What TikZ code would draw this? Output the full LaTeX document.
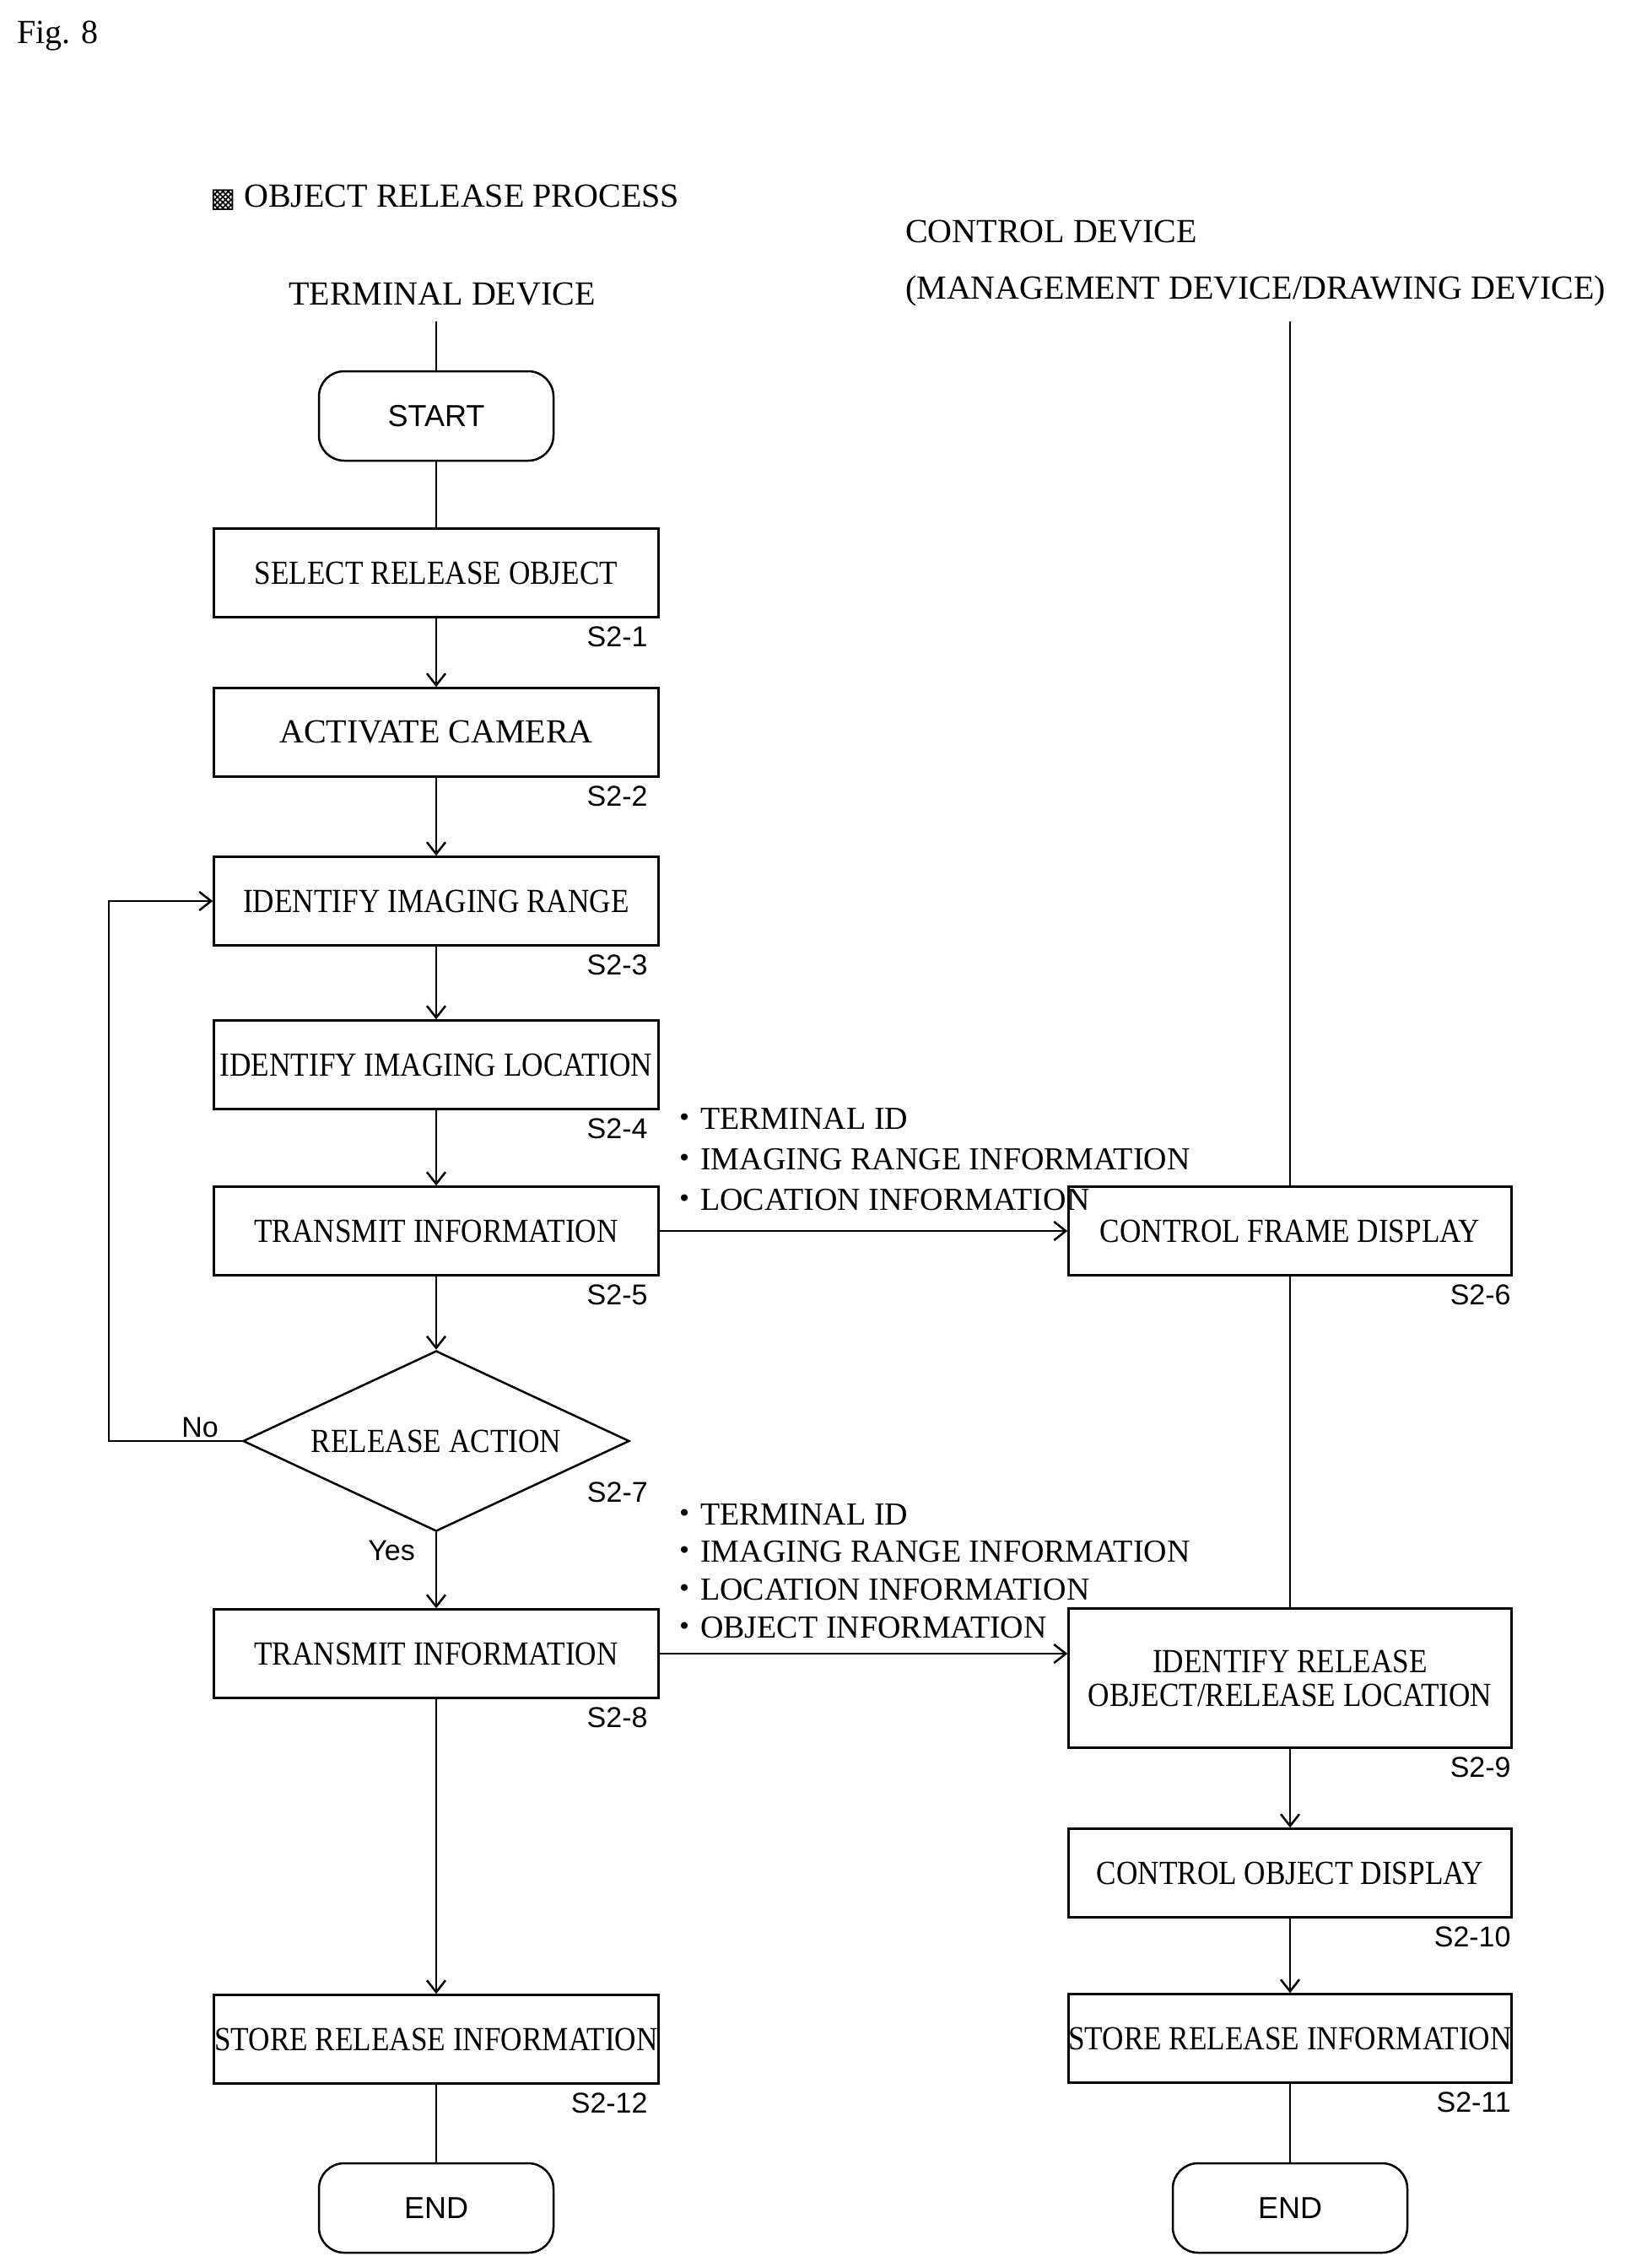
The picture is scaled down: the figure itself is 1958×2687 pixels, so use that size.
\documentclass[tikz,border=0pt]{standalone}
\usepackage{fontspec}
\setmainfont{Liberation Serif}
\setsansfont{Liberation Sans}
\newfontfamily\djvfont{DejaVu Sans}
\newfontfamily\cjkfont{Noto Sans CJK JP}
\usetikzlibrary{shapes.geometric,arrows.meta}
\newcommand{\cnd}[1]{\scalebox{0.88}[1]{#1}}
\newcommand{\dotb}{{\cjkfont ・}}
\begin{document}
\begin{tikzpicture}[x=1pt,y=1pt,
  every node/.style={font=\fontsize{40}{46}\selectfont},
  box/.style={draw,line width=2.5pt,minimum width=527pt,minimum height=105pt,inner sep=0pt},
  term/.style={draw,line width=2.5pt,rounded corners=30pt,minimum width=278pt,minimum height=106pt,font=\sffamily\fontsize{36}{40}\selectfont},
  lab/.style={anchor=north east,font=\sffamily\fontsize{34}{38}\selectfont,inner sep=0pt},
  info/.style={anchor=west,inner sep=0pt,font=\fontsize{38}{42}\selectfont},
  ln/.style={line width=2.5pt},
  ar/.style={line width=2.5pt,-{Straight Barb[length=14pt,width=22pt,line width=2.5pt]}}]
\useasboundingbox (0,0) rectangle (1958,-2687);
\node[anchor=west,inner sep=0pt] at (20,-43) {Fig. 8};
\node[anchor=west,inner sep=0pt] (title) at (249,-234) {{\djvfont\fontsize{32}{36}\selectfont ▩} OBJECT RELEASE PROCESS};
\node[inner sep=0pt] (td) at (524,-349) {TERMINAL DEVICE};
\node[anchor=west,inner sep=0pt] (cd1) at (1073,-275) {CONTROL DEVICE};
\node[anchor=west,inner sep=0pt] (cd2) at (1073,-345) {(MANAGEMENT DEVICE/DRAWING DEVICE)};
\coordinate (ttop) at (517,-381);
\coordinate (rtop) at (1529,-381);
% left column
\node[term] (start) at (517,-493) {START};
\node[box] (s1) at (517,-679) {\cnd{SELECT RELEASE OBJECT}};
\node[box] (s2) at (517,-868) {ACTIVATE CAMERA};
\node[box] (s3) at (517,-1068) {\cnd{IDENTIFY IMAGING RANGE}};
\node[box] (s4) at (517,-1262) {\cnd{IDENTIFY IMAGING LOCATION}};
\node[box] (s5) at (517,-1459) {\cnd{TRANSMIT INFORMATION}};
\node[draw,diamond,line width=2.5pt,minimum width=458pt,minimum height=214pt,aspect=2.14,inner sep=0pt] (s7) at (517,-1708) {\cnd{RELEASE ACTION}};
\node[box] (s8) at (517,-1960) {\cnd{TRANSMIT INFORMATION}};
\node[box] (s12) at (517,-2417) {\cnd{STORE RELEASE INFORMATION}};
\node[term] (end1) at (517,-2617) {END};
% right column
\node[box,minimum width=525pt] (s6) at (1529,-1459) {\cnd{CONTROL FRAME DISPLAY}};
\node[box,minimum width=525pt,minimum height=165pt,align=center] (s9) at (1529,-1989) {\cnd{IDENTIFY RELEASE}\\[-6pt]\cnd{OBJECT/RELEASE LOCATION}};
\node[box,minimum width=525pt] (s10) at (1529,-2220) {\cnd{CONTROL OBJECT DISPLAY}};
\node[box,minimum width=525pt] (s11) at (1529,-2416) {\cnd{STORE RELEASE INFORMATION}};
\node[term] (end2) at (1529,-2617) {END};
% step labels
\node[lab] at ([xshift=-14pt,yshift=-10pt]s1.south east) {S2-1};
\node[lab] at ([xshift=-14pt,yshift=-10pt]s2.south east) {S2-2};
\node[lab] at ([xshift=-14pt,yshift=-10pt]s3.south east) {S2-3};
\node[lab] at ([xshift=-14pt,yshift=-10pt]s4.south east) {S2-4};
\node[lab] at ([xshift=-14pt,yshift=-10pt]s5.south east) {S2-5};
\node[lab] at (768,-1757) {S2-7};
\node[lab] at ([xshift=-14pt,yshift=-10pt]s8.south east) {S2-8};
\node[lab] at ([xshift=-14pt,yshift=-10pt]s12.south east) {S2-12};
\node[lab] at ([xshift=-2pt,yshift=-10pt]s6.south east) {S2-6};
\node[lab] at ([xshift=-2pt,yshift=-10pt]s9.south east) {S2-9};
\node[lab] at ([xshift=-2pt,yshift=-10pt]s10.south east) {S2-10};
\node[lab] at ([xshift=-2pt,yshift=-10pt]s11.south east) {S2-11};
% info
\node[info] (i1) at (792,-1326) {\dotb TERMINAL ID};
\node[info] (i2) at (792,-1374) {\dotb IMAGING RANGE INFORMATION};
\node[info] (i3) at (792,-1422) {\dotb LOCATION INFORMATION};
\node[info] (j1) at (792,-1795) {\dotb TERMINAL ID};
\node[info] (j2) at (792,-1839) {\dotb IMAGING RANGE INFORMATION};
\node[info] (j3) at (792,-1884) {\dotb LOCATION INFORMATION};
\node[info] (j4) at (792,-1929) {\dotb OBJECT INFORMATION};
\node[font=\sffamily\fontsize{34}{38}\selectfont,inner sep=0pt] (no) at (237,-1692) {No};
\node[font=\sffamily\fontsize{34}{38}\selectfont,inner sep=0pt] (yes) at (464,-1838) {Yes};
% connectors
\draw[ln] (ttop) -- (start);
\draw[ln] (start) -- (s1);
\draw[ar] (s1) -- (s2);
\draw[ar] (s2) -- (s3);
\draw[ar] (s3) -- (s4);
\draw[ar] (s4) -- (s5);
\draw[ar] (s5) -- (s7);
\draw[ar] (s7) -- (s8);
\draw[ar] (s8) -- (s12);
\draw[ln] (s12) -- (end1);
\draw[ar] (s7.west) -| (129,-1068) -- (s3.west);
\draw[ar] (s5) -- (s6);
\draw[ar] (s8.east) -- (s8.east -| s9.west);
\draw[ln] (rtop) -- (s6);
\draw[ln] (s6) -- (s9);
\draw[ar] (s9) -- (s10);
\draw[ar] (s10) -- (s11);
\draw[ln] (s11) -- (end2);
\end{tikzpicture}
\end{document}
